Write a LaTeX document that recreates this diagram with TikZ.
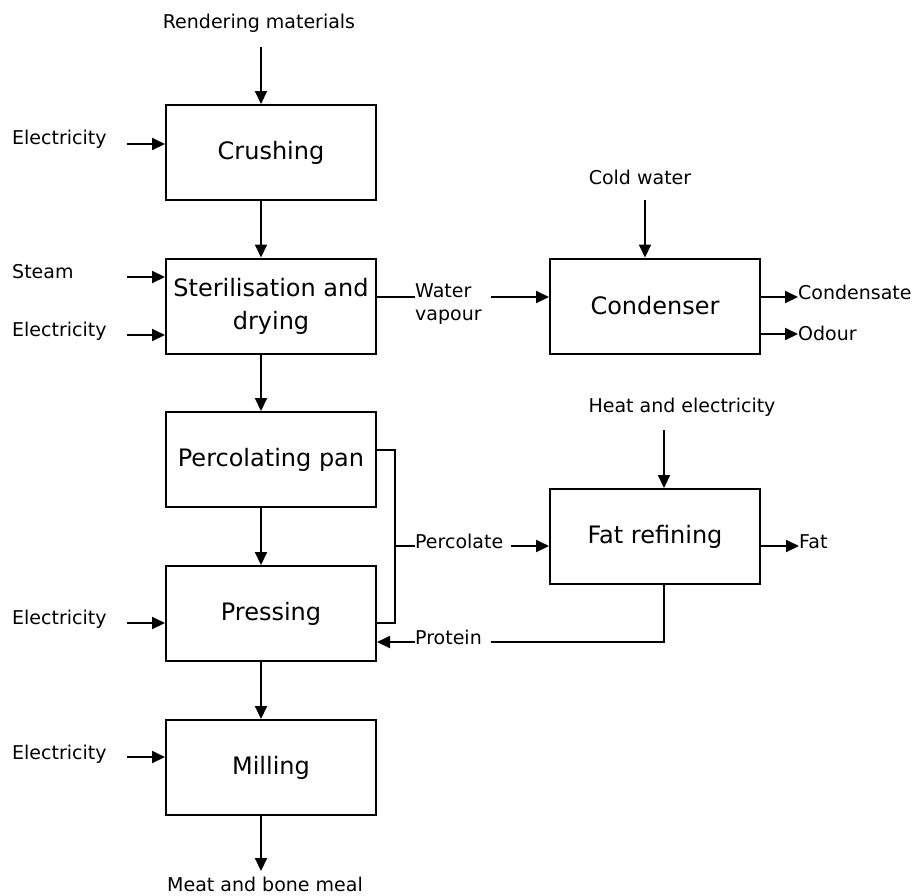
\documentclass[tikz,border=0pt]{standalone}
\usepackage{fontspec}
\setmainfont{DejaVu Sans}
\usetikzlibrary{arrows.meta}
\begin{document}
\begin{tikzpicture}[x=1pt,y=-1pt,
  box/.style={draw,line width=2pt,minimum width=210pt,minimum height=95pt,inner sep=0pt,font=\fontsize{24}{33}\selectfont,align=center},
  lbl/.style={inner sep=0pt,font=\fontsize{19}{23}\selectfont},
  arr/.style={line width=2pt,-{Triangle[length=13pt,width=12pt]}},
  ln/.style={line width=2pt}]
\useasboundingbox[fill=white] (0,0) rectangle (923,895);
% process boxes
\node[box] (crush)  at (271,152.5) {Crushing};
\node[box] (steril) at (271,306)   {Sterilisation and\\drying};
\node[box] (perc)   at (271,459.5) {Percolating pan};
\node[box] (press)  at (271,613.5) {Pressing};
\node[box] (mill)   at (271,767.5) {Milling};
\node[box] (cond)   at (655,306)   {Condenser};
\node[box] (fat)    at (655,536.5) {Fat refining};
% labels
\node[lbl] (rend) at (259,23) {Rendering materials};
\node[lbl,anchor=west] (e1) at (12,139) {Electricity};
\node[lbl,anchor=west] (steam) at (12,272) {Steam};
\node[lbl,anchor=west] (e2) at (12,331) {Electricity};
\node[lbl,anchor=west] (e3) at (12,619) {Electricity};
\node[lbl,anchor=west] (e4) at (12,754) {Electricity};
\node[lbl] (meat) at (265,884) {Meat and bone meal};
\node[lbl,anchor=west,align=left] (wv) at (415,304) {Water\\vapour};
\node[lbl] (cold) at (640,177) {Cold water};
\node[lbl,anchor=west] (condensate) at (798,292) {Condensate};
\node[lbl,anchor=west] (odour) at (798,333) {Odour};
\node[lbl] (heat) at (682,407) {Heat and electricity};
\node[lbl,anchor=west] (perclbl) at (415,541) {Percolate};
\node[lbl,anchor=west] (fatlbl) at (799,542) {Fat};
\node[lbl,anchor=west] (prot) at (415,637) {Protein};
% helper coordinates
\coordinate (colx) at (261,0);
\coordinate (rendend) at (261,47);
\coordinate (meatend) at (261,871);
\coordinate (a1) at (127,144);
\coordinate (a2) at (127,277);
\coordinate (a3) at (127,335);
\coordinate (a4) at (127,623);
\coordinate (a5) at (127,757);
\coordinate (wvy) at (0,297);
\coordinate (wvarr) at (491,297);
\coordinate (cw) at (645,200);
\coordinate (oy) at (0,334);
\coordinate (px) at (395,0);
\coordinate (py1) at (0,450);
\coordinate (py2) at (0,623);
\coordinate (pcy) at (0,546);
\coordinate (pca) at (511,546);
\coordinate (ha) at (664,430);
\coordinate (pry) at (0,642);
\coordinate (prend) at (491,642);
% main column
\draw[arr] (rendend) -- (crush.north -| colx);
\draw[arr] (crush.south -| colx) -- (steril.north -| colx);
\draw[arr] (steril.south -| colx) -- (perc.north -| colx);
\draw[arr] (perc.south -| colx) -- (press.north -| colx);
\draw[arr] (press.south -| colx) -- (mill.north -| colx);
\draw[arr] (mill.south -| colx) -- (meatend);
% side inputs
\draw[arr] (a1) -- (a1 -| crush.west);
\draw[arr] (a2) -- (a2 -| steril.west);
\draw[arr] (a3) -- (a3 -| steril.west);
\draw[arr] (a4) -- (a4 -| press.west);
\draw[arr] (a5) -- (a5 -| mill.west);
% water vapour / condenser
\draw[ln] (steril.east |- wvy) -- (wv.west |- wvy);
\draw[arr] (wvarr) -- (cond.west |- wvarr);
\draw[arr] (cw) -- (cond.north -| cw);
\draw[arr] (cond.east |- wvy) -- (condensate.west |- wvy);
\draw[arr] (cond.east |- oy) -- (odour.west |- oy);
% percolate loop
\draw[ln] (perc.east |- py1) -| (px |- py2) -- (press.east |- py2);
\draw[ln] (px |- pcy) -- (perclbl.west |- pcy);
\draw[arr] (pca) -- (fat.west |- pca);
\draw[arr] (ha) -- (fat.north -| ha);
\draw[arr] (fat.east |- pcy) -- (fatlbl.west |- pcy);
% protein return
\draw[ln] (fat.south -| ha) |- (prend);
\draw[arr] (prot.west |- pry) -- (press.east |- pry);
\end{tikzpicture}
\end{document}
